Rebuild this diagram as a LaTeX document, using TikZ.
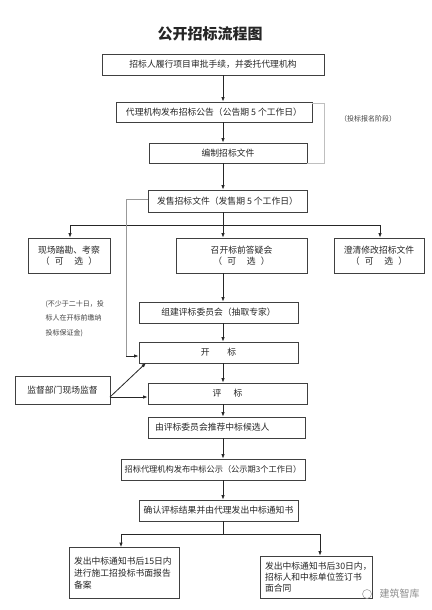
\documentclass[tikz,border=0pt]{standalone}
\usepackage{fontspec}
\setmainfont{Noto Sans CJK SC}
\usetikzlibrary{arrows.meta}
\begin{document}
\begin{tikzpicture}[x=1pt,y=-1pt,
  box/.style={draw=black!75, line width=0.8pt, fill=white, inner sep=0pt,
    font=\fontsize{8.8}{11}\selectfont, text=black!85},
  arr/.style={-{Latex[length=4.5pt,width=3.5pt]}, line width=0.8pt, draw=black!85},
  ln/.style={line width=0.8pt, draw=black!85},
  grayln/.style={line width=0.6pt, draw=black!40},
  brk/.style={line width=0.6pt, draw=black!25},
  small/.style={font=\fontsize{7}{8}\selectfont, text=black!75}]
\useasboundingbox (0,0) rectangle (431,610);
\fill[white] (0,0) rectangle (431,610);

\node[font=\fontsize{15}{18}\selectfont\bfseries, text=black!85] (title) at (210,34) {公开招标流程图};

\node[box, minimum width=222pt, minimum height=21pt] (b1) at (213,64.5) {招标人履行项目审批手续，并委托代理机构};
\node[box, minimum width=196pt, minimum height=20pt] (b2) at (214,112) {代理机构发布招标公告（公告期 5 个工作日）};
\node[box, minimum width=158pt, minimum height=20pt] (b3) at (228,153) {编制招标文件};
\node[box, minimum width=159pt, minimum height=22pt] (b4) at (227.5,201) {发售招标文件（发售期 5 个工作日）};
\node[box, minimum width=82pt, minimum height=35pt, align=center] (b5) at (69,255.5) {现场踏勘、考察\\（\hspace{0.6em}可\hspace{1.2em}选\hspace{0.6em}）};
\node[box, minimum width=131pt, minimum height=35pt, align=center] (b6) at (241.5,255.5) {召开标前答疑会\\（\hspace{0.6em}可\hspace{1.2em}选\hspace{0.6em}）};
\node[box, minimum width=90pt, minimum height=35pt, align=center] (b7) at (379,255.5) {澄清修改招标文件\\（\hspace{0.6em}可\hspace{1.2em}选\hspace{0.6em}）};
\node[box, minimum width=159pt, minimum height=21pt] (b8) at (218.5,312.5) {组建评标委员会（抽取专家）};
\node[box, minimum width=159pt, minimum height=21pt] (b9) at (218.5,352.5) {开\hspace{2em}标};
\node[box, minimum width=159pt, minimum height=21pt] (b10) at (227.5,393.5) {评\hspace{1.4em}标};
\node[box, minimum width=157pt, minimum height=21pt, text width=143pt, align=left] (b11) at (226.5,427.5) {由评标委员会推荐中标候选人};
\node[box, minimum width=184pt, minimum height=21pt, font=\fontsize{8.2}{10}\selectfont] (b12) at (213,469.5) {招标代理机构发布中标公示（公示期3个工作日）};
\node[box, minimum width=159pt, minimum height=21pt] (b13) at (218.5,510.5) {确认评标结果并由代理发出中标通知书};
\node[box, minimum width=110pt, minimum height=51pt, text width=100pt, align=left, font=\fontsize{8.8}{12}\selectfont] (b14) at (124,573) {发出中标通知书后15日内\\进行施工招投标书面报告\\备案};
\node[box, minimum width=112pt, minimum height=42pt, text width=102pt, align=left, font=\fontsize{8.8}{11}\selectfont] (b15) at (316,577) {发出中标通知书后30日内，\\招标人和中标单位签订书\\面合同};
\node[box, minimum width=95pt, minimum height=28pt] (sup) at (62.5,390) {监督部门现场监督};

\node[small] (lab) at (368,119) {（投标报名阶段）};
\node[small, font=\fontsize{7}{14.5}\selectfont, align=left, anchor=north west] (note) at (42,297) {(不少于二十日，投\\标人在开标前缴纳\\投标保证金)};
\node[font=\fontsize{10}{12}\selectfont, text=black!45, anchor=west] (wm) at (376,594) {建筑智库};
\draw[black!35, line width=0.6pt] (wm.west) ++(-9,0) circle (4.5pt);

% spine
\coordinate (sp) at (223,0);
\draw[arr] (b1.south -| sp) -- (b2.north -| sp);
\draw[arr] (b2.south -| sp) -- (b3.north -| sp);
\draw[arr] (b3.south -| sp) -- (b4.north -| sp);

% bracket
\coordinate (k1) at (324,103);
\coordinate (k2) at (324,163);
\draw[brk] (b2.east |- k1) -- (k1) -- (k2) -- (b3.east |- k2);

% first branch
\coordinate (j1) at (223,225);
\coordinate (j1l) at (70,225);
\coordinate (j1r) at (380,225);
\draw[ln] (b4.south -| sp) -- (j1);
\draw[ln] (j1l) -- (j1r);
\draw[arr] (j1l) -- (b5.north -| j1l);
\draw[arr] (j1) -- (b6.north -| j1);
\draw[arr] (j1r) -- (b7.north -| j1r);

\draw[arr] (b6.south -| sp) -- (b8.north -| sp);
\draw[arr] (b8.south -| sp) -- (b9.north -| sp);
\draw[arr] (b9.south -| sp) -- (b10.north -| sp);
\draw[arr] (b10.south -| sp) -- (b11.north -| sp);
\draw[arr] (b11.south -| sp) -- (b12.north -| sp);
\draw[arr] (b12.south -| sp) -- (b13.north -| sp);

% gray bypass line
\coordinate (g1) at (126,199);
\coordinate (g2) at (126,356);
\draw[grayln] (b4.west |- g1) -- (g1) -- (g2);
\draw[arr] (g2) -- (b9.west |- g2);

% supervision
\coordinate (s0) at (110,397);
\coordinate (s1) at (146,363);
\draw[arr] (s0) -- (s1);
\draw[arr] (s0) -- (b10.west |- s0);

% last branch
\coordinate (j2) at (223,534);
\coordinate (j2l) at (121,534);
\coordinate (j2r) at (320,534);
\draw[ln] (b13.south -| sp) -- (j2);
\draw[ln] (j2l) -- (j2r);
\draw[arr] (j2l) -- (b14.north -| j2l);
\draw[arr] (j2r) -- (b15.north -| j2r);
\end{tikzpicture}
\end{document}
